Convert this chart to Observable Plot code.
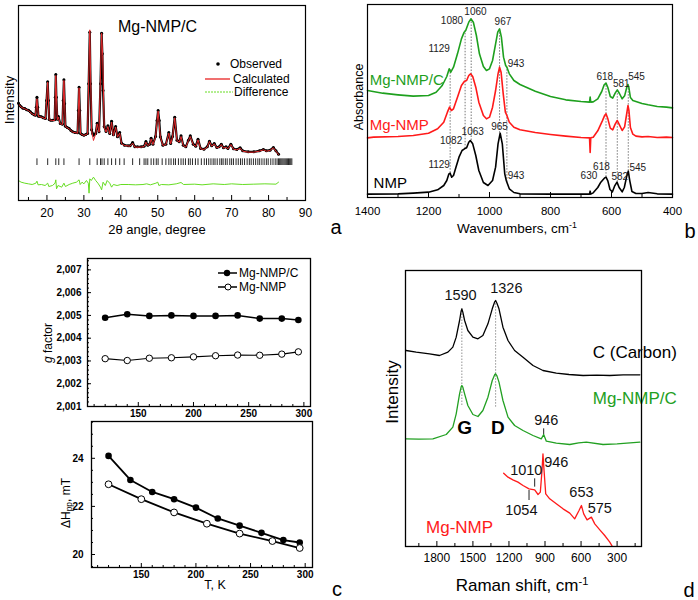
<!DOCTYPE html>
<html>
<head>
<meta charset="utf-8">
<script src="https://cdn.jsdelivr.net/npm/d3@7"></script>
<script src="https://cdn.jsdelivr.net/npm/@observablehq/plot@0.6"></script>
<style>
  body { margin: 0; background: #fff; }
  #fig { position: relative; width: 698px; height: 600px; background: #fff; font-family: 'Liberation Sans', Arial, Helvetica, sans-serif; color: #000; overflow: hidden; }
  .panel { position: absolute; }
  .lab { position: absolute; transform: translate(-50%, -50%); white-space: nowrap; line-height: 1; }
  .rot { transform: translate(-50%, -50%) rotate(-90deg); }
  sub { font-size: 70%; vertical-align: -0.25em; }
  sup { font-size: 65%; vertical-align: 0.6em; }
  #overlay { position: absolute; left: 0; top: 0; pointer-events: none; }
</style>
</head>
<body>
<div id="fig">
  <div id="pa" class="panel" style="left:0;top:0"></div>
  <div id="pb" class="panel" style="left:349px;top:0"></div>
  <div id="pc1" class="panel" style="left:0;top:250px"></div>
  <div id="pc2" class="panel" style="left:0;top:415px"></div>
  <div id="pd" class="panel" style="left:349px;top:260px"></div>

  <div class="lab rot" style="left:9px;top:100px;font-size:13px">Intensity</div>
  <div class="lab" style="left:157px;top:229px;font-size:13px">2θ angle, degree</div>
  <div class="lab" style="left:336px;top:227px;font-size:20px">a</div>

  <div class="lab rot" style="left:359px;top:97px;font-size:12.5px">Absorbance</div>
  <div class="lab" style="left:517px;top:228px;font-size:13.5px">Wavenumbers, cm<sup>-1</sup></div>
  <div class="lab" style="left:690px;top:231px;font-size:20px">b</div>

  <div class="lab rot" style="left:48px;top:343px;font-size:12px"><i>g</i> factor</div>
  <div class="lab rot" style="left:67px;top:503px;font-size:12px">ΔH<sub>pp</sub>, mT</div>
  <div class="lab" style="left:215px;top:585px;font-size:12.5px">T, K</div>
  <div class="lab" style="left:337px;top:589px;font-size:20px">c</div>

  <div class="lab rot" style="left:392px;top:392px;font-size:17px">Intensity</div>
  <div class="lab" style="left:522px;top:585px;font-size:17px">Raman shift, cm<sup>-1</sup></div>
  <div class="lab" style="left:689px;top:590px;font-size:20px">d</div>

  <svg id="overlay" width="698" height="600" font-family="'Liberation Sans', Arial, Helvetica, sans-serif">
    <circle cx="218" cy="64" r="1.8" fill="#000"></circle>
    <text x="230" y="64" dy="0.35em" font-size="12">Observed</text>
    <line x1="205" x2="230" y1="79" y2="79" stroke="#f07070" stroke-width="2"></line>
    <text x="233" y="79" dy="0.35em" font-size="12">Calculated</text>
    <line x1="205" x2="233" y1="92" y2="92" stroke="#66dd22" stroke-width="1" stroke-dasharray="2,1"></line>
    <text x="234" y="92" dy="0.35em" font-size="12">Difference</text>

    <line x1="218" x2="237" y1="273" y2="273" stroke="#000" stroke-width="1.5"></line>
    <circle cx="227" cy="273" r="3.2" fill="#000"></circle>
    <text x="239" y="273" dy="0.35em" font-size="12">Mg-NMP/C</text>
    <line x1="218" x2="237" y1="287" y2="287" stroke="#000" stroke-width="1.5"></line>
    <circle cx="228" cy="287" r="3" fill="#fff" stroke="#000" stroke-width="1"></circle>
    <text x="239" y="287" dy="0.35em" font-size="12">Mg-NMP</text>
  </svg>
</div>

<script>
// ---------------- Panel a : XRD (2θ, intensity a.u.) ----------------
const xrdCalc = [[12.3,290],[13,280],[14,275],[15,270],[16,260],[16.9,255],[17.3,305],[17.7,252],[18.5,250],[19.6,245],[20.2,355],[20.6,242],[21.5,240],[22.1,240],[22.4,375],[22.8,242],[23.1,250],[23.6,230],[24.2,228],[24.6,360],[25.0,222],[26,215],[27,205],[28.3,202],[28.7,338],[29.1,200],[30,195],[31.0,200],[31.6,512],[32.1,210],[32.6,180],[33.2,200],[33.6,230],[34.1,205],[34.8,502],[35.1,435],[35.5,220],[36.0,205],[36.5,222],[37.0,200],[37.5,235],[38.0,195],[38.6,220],[39.1,190],[39.7,202],[40.2,170],[41,165],[42.5,163],[43.2,172],[43.8,160],[45.5,160],[46.3,162],[46.8,175],[47.3,165],[47.8,168],[48.2,185],[48.7,168],[49.4,190],[50.1,268],[50.7,190],[51.4,165],[52.2,168],[53.0,202],[53.5,170],[54.0,190],[54.6,248],[55.2,180],[55.8,175],[56.3,192],[56.9,165],[57.6,160],[58.3,180],[58.8,192],[59.6,168],[60.3,162],[60.9,182],[61.6,155],[62.5,153],[63.4,160],[64.0,177],[64.6,163],[65.3,170],[66.0,158],[66.6,160],[67.2,168],[67.8,157],[68.5,160],[69.0,155],[69.8,168],[70.5,154],[71.4,152],[72.3,157],[73.0,148],[74.5,145],[76,145],[77.5,148],[78.6,152],[79.4,148],[80.4,150],[81.3,158],[82.0,148],[82.7,138]];
const xrdObs = [[12.3,292],[12.6,286],[13,281],[13.5,277],[14,276],[14.5,272],[15,271],[15.5,266],[16,261],[16.5,257],[16.9,256],[17.1,280],[17.3,310],[17.5,280],[17.7,253],[18.1,252],[18.5,251],[19,248],[19.6,246],[19.9,300],[20.2,356],[20.4,300],[20.6,243],[21,241],[21.5,241],[22.1,242],[22.25,310],[22.4,378],[22.55,310],[22.8,244],[23.1,252],[23.6,231],[24.2,229],[24.4,300],[24.6,362],[24.8,290],[25.0,223],[25.5,219],[26,216],[26.5,210],[27,206],[27.6,204],[28.3,203],[28.5,270],[28.7,340],[28.9,270],[29.1,201],[29.5,198],[30,196],[30.5,198],[31.0,201],[31.3,350],[31.6,505],[31.8,350],[32.1,212],[32.4,200],[32.6,196],[33.2,201],[33.6,232],[34.1,206],[34.5,350],[34.8,502],[35.0,440],[35.2,330],[35.5,222],[36.0,207],[36.5,224],[37.0,201],[37.5,238],[38.0,197],[38.6,222],[39.1,191],[39.7,204],[40.2,172],[41,166],[42,164],[42.5,164],[43.2,174],[43.8,161],[44.5,161],[45.5,161],[46.3,163],[46.8,177],[47.3,166],[47.8,169],[48.2,187],[48.7,169],[49.4,192],[49.8,240],[50.1,270],[50.4,240],[50.7,191],[51.4,166],[52.2,169],[53.0,204],[53.5,171],[54.0,192],[54.6,250],[55.2,181],[55.8,176],[56.3,194],[56.9,166],[57.6,161],[58.3,181],[58.8,194],[59.6,169],[60.3,163],[60.9,184],[61.6,156],[62.5,154],[63.4,161],[64.0,178],[64.6,164],[65.3,171],[66.0,159],[66.6,161],[67.2,169],[67.8,158],[68.5,161],[69.0,156],[69.8,169],[70.5,155],[71.4,153],[72.3,158],[73.0,149],[74.5,146],[76,146],[77.5,149],[78.6,153],[79.4,149],[80.4,151],[81.3,159],[82.0,149],[82.7,139]];
const xrdDiff = [[12.3,60],[13,55],[14,52],[15,50],[16,48],[17,52],[17.3,58],[17.6,47],[18.5,48],[19.5,45],[20.2,52],[20.5,42],[21.5,45],[22.2,52],[22.4,62],[22.6,35],[23,45],[24,40],[24.6,52],[25,42],[26,48],[27,52],[28,55],[28.7,62],[29,48],[29.5,55],[30,50],[30.7,60],[31.2,52],[31.4,22],[31.6,65],[32,60],[32.6,70],[33.2,60],[33.8,52],[34.5,40],[34.8,32],[35.2,55],[35.8,45],[36.3,60],[37,52],[37.5,40],[38,48],[39,45],[40,48],[42,48],[44,47],[46,48],[47,50],[48,47],[49.5,52],[50,55],[50.3,45],[51,48],[53,47],[55,50],[56.3,54],[57,48],[60,49],[62,47],[65,50],[68,48],[70,50],[73,48],[76,49],[79,50],[82,49],[82.7,55]];
const xrdReflections = [17.3,20.2,22.4,23.2,24.6,28.7,31.6,33.6,34.5,34.9,35.5,36.5,37.5,38.6,39.7,40.9,43.2,45.1,46.3,46.8,47.3,48.2,48.9,49.6,50.1,51.2,52.2,53.0,53.6,54.3,54.8,55.6,56.3,56.9,57.5,58.3,58.8,59.4,60.2,60.9,61.8,62.6,63.2,63.8,64.4,65.0,65.5,66.1,66.8,67.3,67.7,68.3,68.8,69.5,70.0,70.5,71.2,71.8,72.4,72.9,73.5,74.2,74.8,75.3,75.9,76.5,77.1,77.6,78.2,78.8,79.4,79.9,80.6,81.2,81.8,82.3,82.7,83.0,83.3,83.6,83.9,84.2,84.5,84.8,85.1,85.4,85.7,86.0,86.3];
const reflectionBand = [105, 125];
const xrdTicks = [20,30,40,50,60,70,80,90];
const xrdMinorTicks = [15,25,35,45,55,65,75,85];

// ---------------- Panel b : IR (wavenumber, absorbance a.u.) ----------------
const irNMP = [[1400,10],[1300,11],[1250,13],[1200,16],[1170,23],[1150,36],[1140,51],[1133,71],[1129,73],[1124,61],[1118,66],[1110,91],[1100,121],[1090,141],[1082,146],[1075,149],[1068,166],[1063,171],[1055,161],[1045,126],[1035,81],[1020,45],[1005,36],[990,51],[980,91],[972,161],[965,193],[958,161],[950,71],[945,51],[943,46],[935,26],[920,15],[900,11],[800,10],[700,10],[672,10],[670,19],[668,10],[660,14],[645,30],[635,46],[630,51],[622,59],[618,61],[612,50],[605,24],[597,17],[590,34],[582,46],[575,30],[565,17],[558,30],[550,64],[545,79],[540,50],[533,18],[520,12],[500,12],[480,15],[450,11],[400,10]];
const irMgNMP = [[1400,179],[1380,181],[1300,183],[1250,186],[1200,193],[1170,206],[1150,226],[1138,256],[1131,271],[1125,261],[1118,266],[1105,301],[1092,336],[1082,349],[1075,351],[1068,366],[1062,371],[1055,363],[1045,331],[1035,286],[1020,246],[1010,236],[1000,241],[990,271],[980,321],[972,371],[967,391],[962,376],[955,311],[948,256],[943,246],[935,226],[920,211],[900,203],[850,195],[800,189],[750,184],[700,180],[672,179],[670,135],[668,179],[660,181],[645,200],[630,230],[622,247],[618,251],[612,236],[604,208],[596,203],[588,220],[581,231],[574,218],[565,201],[557,212],[550,252],[546,276],[543,262],[538,210],[530,190],[520,184],[500,182],[480,183],[450,180],[420,181],[400,180]];
const irMgNMPC = [[1400,321],[1350,313],[1300,308],[1250,304],[1200,306],[1175,316],[1155,336],[1140,363],[1132,386],[1127,376],[1118,391],[1105,431],[1092,476],[1083,496],[1078,501],[1068,526],[1061,536],[1053,526],[1043,486],[1033,431],[1020,393],[1010,381],[1000,386],[990,411],[980,461],[973,496],[967,506],[961,481],[954,421],[947,396],[943,391],[935,371],[920,351],[900,339],[850,319],[800,303],[750,293],[700,288],[672,286],[670,301],[668,286],[660,287],[645,296],[632,318],[624,338],[618,343],[612,330],[604,303],[596,298],[588,313],[581,323],[574,312],[565,296],[557,305],[550,330],[546,339],[543,330],[538,300],[530,291],[520,288],[500,282],[480,278],[450,273],[420,271],[400,269]];
const irGuides = [
  {wn:1129, top:386, bottom:73}, {wn:1080, top:501, bottom:146}, {wn:1060, top:536, bottom:171},
  {wn:967, top:506, bottom:193}, {wn:943, top:391, bottom:46}, {wn:618, top:343, bottom:61},
  {wn:581, top:323, bottom:46}, {wn:545, top:339, bottom:79}
];
const irPeakLabels = [
  {t:"1060", wn:1046, y:556}, {t:"1080", wn:1123, y:531}, {t:"967", wn:956, y:526},
  {t:"1129", wn:1165, y:446}, {t:"943", wn:913, y:401},
  {t:"618", wn:622, y:361}, {t:"581", wn:568, y:341}, {t:"545", wn:518, y:361},
  {t:"1082", wn:1126, y:171}, {t:"1063", wn:1055, y:196}, {t:"965", wn:967, y:213},
  {t:"1129", wn:1165, y:98}, {t:"943", wn:913, y:66},
  {t:"630", wn:674, y:65}, {t:"618", wn:633, y:93}, {t:"582", wn:573, y:63}, {t:"545", wn:514, y:90}
];
const irSeriesLabels = [
  {t:"Mg-NMP/C", wn:1393, y:351, c:"#1ea01e"},
  {t:"Mg-NMP", wn:1393, y:216, c:"#ff1a1a"},
  {t:"NMP", wn:1380, y:42, c:"#000"}
];
const irTicks = [1400,1200,1000,800,600,400];
const irMinorTicks = [1300,1100,900,700,500];

// ---------------- Panel c : EPR ----------------
const epTemp = [120,140,160,180,200,220,240,260,280,295];
const gMgNMPC = [2.0049,2.00505,2.00498,2.005,2.00498,2.00498,2.005,2.00486,2.00486,2.0048];
const gMgNMP = [2.0031,2.00302,2.00312,2.00314,2.00318,2.00323,2.00326,2.00325,2.0033,2.0034];
const dhTempC = [120,140,160,180,200,220,240,260,280,295];
const dhMgNMPC = [24.1,23.1,22.6,22.3,21.95,21.5,21.2,20.9,20.6,20.5];
const dhTemp = [120,150,180,210,240,270,295];
const dhMgNMP = [22.92,22.3,21.75,21.28,20.87,20.56,20.27];
const gTicks = [2.001,2.002,2.003,2.004,2.005,2.006,2.007];
const gMinorTicks = d3.range(2.0012, 2.0075, 0.0002);
const dhTicks = [20,22,24];
const dhMinorTicks = [19.5,20.5,21,21.5,22.5,23,23.5,24.5,25,25.5];
const tTicks = [150,200,250,300];
const tMinorTicks = [110,120,130,140,160,170,180,190,210,220,230,240,260,270,280,290];

// ---------------- Panel d : Raman (shift, intensity a.u.) ----------------
const ramanCarbon = [[2056,588],[1972,583],[1861,578],[1778,573],[1708,583],[1667,598],[1639,628],[1611,678],[1598,706],[1592,713],[1584,703],[1569,678],[1542,648],[1500,628],[1458,623],[1417,633],[1375,668],[1339,713],[1320,733],[1311,738],[1300,730],[1283,713],[1250,658],[1208,618],[1153,588],[1083,568],[1000,543],[917,528],[806,520],[700,516],[583,513],[470,514],[361,513],[250,515],[111,515]];
const ramanMgNMPC = [[2056,323],[1950,322],[1833,323],[1722,336],[1667,358],[1639,398],[1611,458],[1597,480],[1592,483],[1584,478],[1569,458],[1542,423],[1500,396],[1458,390],[1417,408],[1375,448],[1339,498],[1318,516],[1311,518],[1300,512],[1283,493],[1250,438],[1208,388],[1153,363],[1083,348],[1000,333],[931,323],[911,336],[889,316],[806,310],[694,306],[620,311],[556,313],[417,306],[300,308],[111,313]];
const ramanMgNMP = [[1244,220],[1208,208],[1167,200],[1125,193],[1083,183],[1033,173],[986,170],[958,156],[939,163],[925,228],[917,278],[908,228],[894,158],[861,143],[806,128],[750,113],[694,100],[653,83],[617,108],[597,123],[578,98],[550,80],[514,88],[486,68],[444,50],[403,33],[361,13],[328,-7]];
const ramanGuides = [{wn:1592, top:713, bottom:423}, {wn:1311, top:738, bottom:418}];
const ramanMarkers = [{wn:911, y1:336, y2:353}, {wn:986, y1:178, y2:203}, {wn:1033, y1:138, y2:168}];
const ramanPeakLabels = [
  {t:"1590", wn:1603, y:753}, {t:"1326", wn:1222, y:774},
  {t:"946", wn:889, y:378}, {t:"1010", wn:1056, y:228}, {t:"946", wn:806, y:252},
  {t:"1054", wn:1097, y:108}, {t:"653", wn:597, y:162}, {t:"575", wn:444, y:114}
];
const ramanBandLabels = [{t:"G", wn:1569, y:357}, {t:"D", wn:1292, y:357}];
const ramanSeriesLabels = [
  {t:"C (Carbon)", wn:153, y:582, c:"#000", a:"end"},
  {t:"Mg-NMP/C", wn:153, y:444, c:"#22a022", a:"end"},
  {t:"Mg-NMP", wn:1611, y:57, c:"#ff1a1a", a:"middle"}
];
const ramanTicks = [1800,1500,1200,900,600,300];
const ramanMinorTicks = [1950,1650,1350,1050,750,450,150];

// ---------------- helpers ----------------
const FONT = "'Liberation Sans', Arial, Helvetica, sans-serif";
const baseStyle = {fontFamily: FONT, fontSize: "12px", background: "transparent", overflow: "visible", color: "#000"};
const plain = d => String(d);
function xInTicks(values, len, plotH) {
  return Plot.ruleX(values, {x: d => d, insetTop: plotH - len, stroke: "#000", strokeWidth: 1});
}
function yInTicks(values, len, plotW) {
  return Plot.ruleY(values, {y: d => d, insetRight: plotW - len, stroke: "#000", strokeWidth: 1});
}
const px = d => d[0], py = d => d[1];

// ---------------- Panel a ----------------
{
  const W = 349, H = 245, mL = 18, mR = 44, mT = 5, mB = 45;
  const pH = H - mT - mB;
  const chart = Plot.plot({
    width: W, height: H, marginLeft: mL, marginRight: mR, marginTop: mT, marginBottom: mB,
    style: baseStyle,
    x: {domain: [12.3, 90]},
    y: {domain: [0, 585], axis: null},
    marks: [
      Plot.ruleX(xrdReflections, {x: d => d, y1: reflectionBand[0], y2: reflectionBand[1], stroke: "#111", strokeWidth: 0.9}),
      Plot.line(xrdDiff, {x: px, y: py, stroke: "#66dd22", strokeWidth: 1}),
      Plot.line(xrdObs, {x: px, y: py, stroke: "#000", strokeWidth: 2.2}),
      Plot.dot(xrdObs, {x: px, y: py, r: 1.5, fill: "#000"}),
      Plot.line(xrdCalc, {x: px, y: py, stroke: "#e8292b", strokeWidth: 1}),
      xInTicks(xrdTicks, 5, pH),
      xInTicks(xrdMinorTicks, 3, pH),
      Plot.axisX(xrdTicks, {tickSize: 0, tickPadding: 8, label: null, fontSize: 12, tickFormat: plain}),
      Plot.text(["Mg-NMP/C"], {text: d => d, frameAnchor: "top", dx: -4.5, dy: 15, fontSize: 16}),
      Plot.frame({stroke: "#000", strokeWidth: 1.2})
    ]
  });
  document.getElementById("pa").append(chart);
}

// ---------------- Panel b ----------------
{
  const W = 349, H = 245, mL = 18, mR = 26, mT = 4, mB = 48;
  const pH = H - mT - mB;
  const chart = Plot.plot({
    width: W, height: H, marginLeft: mL, marginRight: mR, marginTop: mT, marginBottom: mB,
    style: baseStyle,
    x: {domain: [1400, 400]},
    y: {domain: [0, 579], axis: null},
    marks: [
      Plot.ruleX(irGuides, {x: "wn", y1: "bottom", y2: "top", stroke: "#555", strokeWidth: 0.8, strokeDasharray: "1.5,1.5"}),
      Plot.line(irNMP, {x: px, y: py, stroke: "#000", strokeWidth: 1.6}),
      Plot.line(irMgNMP, {x: px, y: py, stroke: "#ff1a1a", strokeWidth: 1.6}),
      Plot.line(irMgNMPC, {x: px, y: py, stroke: "#1ea01e", strokeWidth: 1.6}),
      Plot.text(irPeakLabels, {x: "wn", y: "y", text: "t", fontSize: 10, fill: "#222"}),
      Plot.text(irSeriesLabels, {x: "wn", y: "y", text: "t", fill: "c", textAnchor: "start", fontSize: 15}),
      xInTicks(irTicks, 5, pH),
      xInTicks(irMinorTicks, 3, pH),
      Plot.axisX(irTicks, {tickSize: 0, tickPadding: 9, label: null, fontSize: 11.5, tickFormat: plain}),
      Plot.frame({stroke: "#000", strokeWidth: 1.2})
    ]
  });
  document.getElementById("pb").append(chart);
}

// ---------------- Panel c (top) ----------------
{
  const W = 349, H = 175, mL = 87, mR = 39, mT = 8, mB = 19;
  const pH = H - mT - mB, pW = W - mL - mR;
  const filled = epTemp.map((t, i) => ({t, g: gMgNMPC[i]}));
  const open = epTemp.map((t, i) => ({t, g: gMgNMP[i]}));
  const chart = Plot.plot({
    width: W, height: H, marginLeft: mL, marginRight: mR, marginTop: mT, marginBottom: mB,
    style: baseStyle,
    x: {domain: [104, 306]},
    y: {domain: [2.001, 2.0075]},
    marks: [
      xInTicks(tTicks, 4, pH),
      xInTicks(tMinorTicks, 2, pH),
      yInTicks(gTicks, 4, pW),
      yInTicks(gMinorTicks, 2, pW),
      Plot.axisX(tTicks, {tickSize: 0, tickPadding: 3, label: null, fontSize: 10, fontWeight: "bold", tickFormat: plain}),
      Plot.axisY(gTicks, {tickSize: 0, tickPadding: 6, label: null, fontSize: 10, fontWeight: "bold", tickFormat: d => d3.format(".3f")(d).replace(".", ",")}),
      Plot.line(filled, {x: "t", y: "g", stroke: "#000", strokeWidth: 1.5}),
      Plot.line(open, {x: "t", y: "g", stroke: "#000", strokeWidth: 1.2}),
      Plot.dot(filled, {x: "t", y: "g", r: 3.3, fill: "#000"}),
      Plot.dot(open, {x: "t", y: "g", r: 3.2, fill: "#fff", stroke: "#000", strokeWidth: 1}),
      Plot.frame({stroke: "#000", strokeWidth: 1.3})
    ]
  });
  document.getElementById("pc1").append(chart);
}

// ---------------- Panel c (bottom) ----------------
{
  const W = 349, H = 185, mL = 91, mR = 37, mT = 6, mB = 33;
  const pH = H - mT - mB, pW = W - mL - mR;
  const filled = dhTempC.map((t, i) => ({t, h: dhMgNMPC[i]}));
  const open = dhTemp.map((t, i) => ({t, h: dhMgNMP[i]}));
  const chart = Plot.plot({
    width: W, height: H, marginLeft: mL, marginRight: mR, marginTop: mT, marginBottom: mB,
    style: baseStyle,
    x: {domain: [104.4, 306.7]},
    y: {domain: [19.46, 25.53]},
    marks: [
      xInTicks(tTicks, 4, pH),
      xInTicks(tMinorTicks, 2, pH),
      yInTicks(dhTicks, 4, pW),
      yInTicks(dhMinorTicks, 2, pW),
      Plot.axisX(tTicks, {tickSize: 0, tickPadding: 3, label: null, fontSize: 10, fontWeight: "bold", tickFormat: plain}),
      Plot.axisY(dhTicks, {tickSize: 0, tickPadding: 8, label: null, fontSize: 10, fontWeight: "bold", tickFormat: plain}),
      Plot.line(filled, {x: "t", y: "h", stroke: "#000", strokeWidth: 1.8}),
      Plot.line(open, {x: "t", y: "h", stroke: "#000", strokeWidth: 1.8}),
      Plot.dot(filled, {x: "t", y: "h", r: 3.3, fill: "#000"}),
      Plot.dot(open, {x: "t", y: "h", r: 3.4, fill: "#fff", stroke: "#000", strokeWidth: 1}),
      Plot.frame({stroke: "#000", strokeWidth: 1.3})
    ]
  });
  document.getElementById("pc2").append(chart);
}

// ---------------- Panel d ----------------
{
  const W = 349, H = 340, mL = 56, mR = 57, mT = 10, mB = 54;
  const pH = H - mT - mB;
  const chart = Plot.plot({
    width: W, height: H, marginLeft: mL, marginRight: mR, marginTop: mT, marginBottom: mB,
    style: baseStyle,
    x: {domain: [2061, 97]},
    y: {domain: [0, 828], axis: null},
    marks: [
      Plot.ruleX(ramanGuides, {x: "wn", y1: "bottom", y2: "top", stroke: "#777", strokeWidth: 0.8, strokeDasharray: "1.5,1.5"}),
      Plot.ruleX(ramanMarkers, {x: "wn", y1: "y1", y2: "y2", stroke: "#222", strokeWidth: 1}),
      Plot.line(ramanCarbon, {x: px, y: py, stroke: "#000", strokeWidth: 1.3}),
      Plot.line(ramanMgNMPC, {x: px, y: py, stroke: "#22a022", strokeWidth: 1.3}),
      Plot.line(ramanMgNMP, {x: px, y: py, stroke: "#ff1a1a", strokeWidth: 1.3, clip: true}),
      Plot.text(ramanPeakLabels, {x: "wn", y: "y", text: "t", fontSize: 14.5, fill: "#111"}),
      Plot.text(ramanBandLabels, {x: "wn", y: "y", text: "t", fontSize: 19, fontWeight: "bold"}),
      Plot.text(ramanSeriesLabels, {x: "wn", y: "y", text: "t", fill: "c", textAnchor: "a", fontSize: 17}),
      xInTicks(ramanTicks, 5, pH),
      xInTicks(ramanMinorTicks, 3, pH),
      Plot.axisX(ramanTicks, {tickSize: 0, tickPadding: 7, label: null, fontSize: 12, tickFormat: plain}),
      Plot.frame({stroke: "#000", strokeWidth: 1.3})
    ]
  });
  document.getElementById("pd").append(chart);
}
</script>
</body>
</html>
